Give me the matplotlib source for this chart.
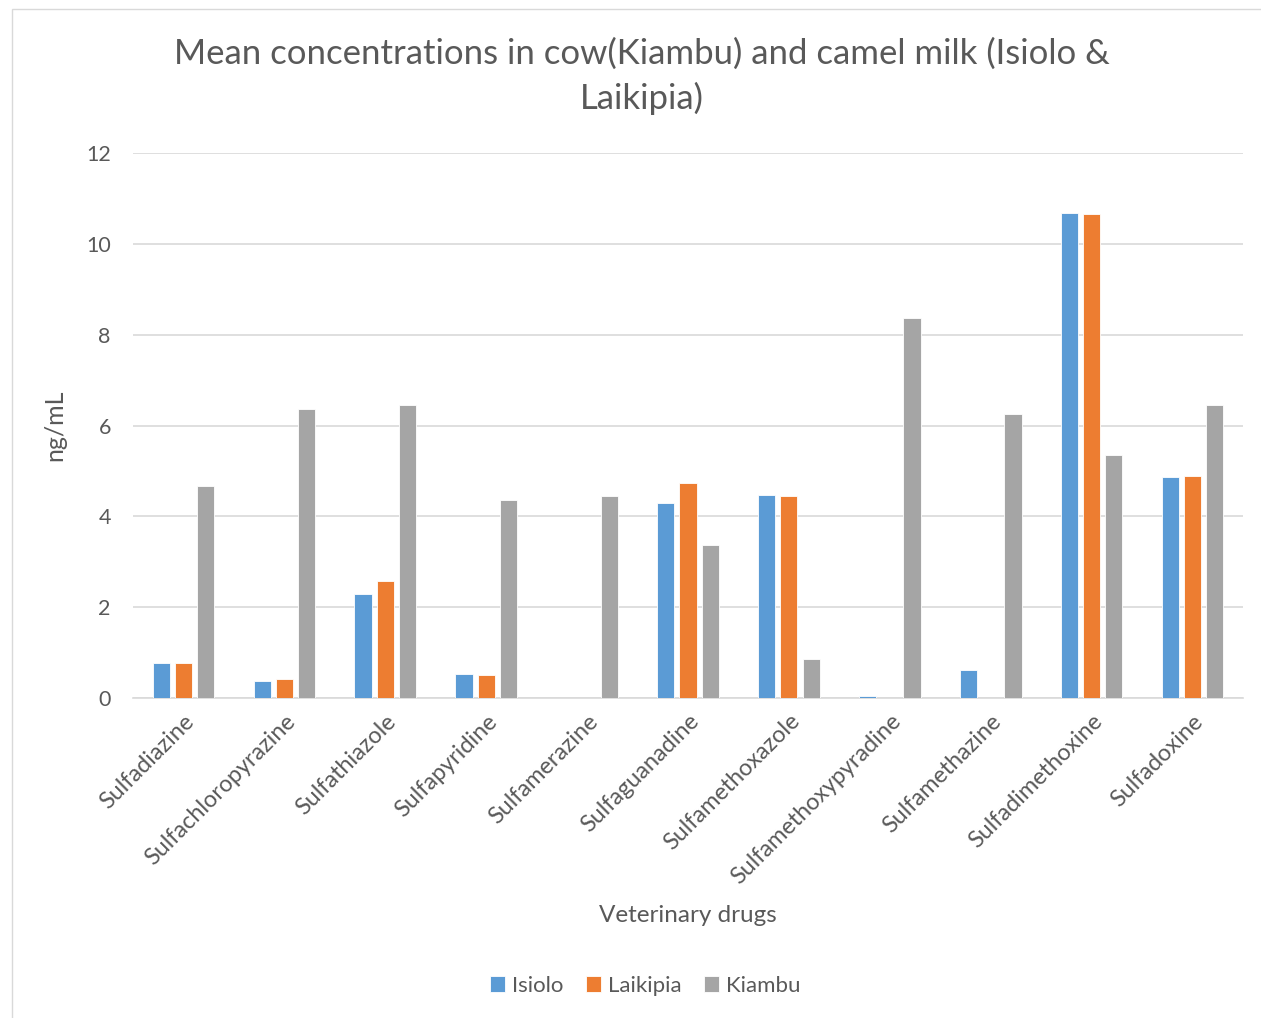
import matplotlib
matplotlib.use("Agg")
import matplotlib.pyplot as plt
import numpy as np
from matplotlib.patches import Rectangle

drugs = ["Sulfadiazine", "Sulfachloropyrazine", "Sulfathiazole", "Sulfapyridine",
         "Sulfamerazine", "Sulfaguanadine", "Sulfamethoxazole", "Sulfamethoxypyradine",
         "Sulfamethazine", "Sulfadimethoxine", "Sulfadoxine"]
isiolo = [0.77, 0.37, 2.30, 0.53, 0.0, 4.29, 4.47, 0.04, 0.62, 10.68, 4.86]
laikipia = [0.77, 0.42, 2.58, 0.51, 0.0, 4.73, 4.45, 0.0, 0.0, 10.66, 4.89]
kiambu = [4.67, 6.36, 6.45, 4.36, 4.45, 3.37, 0.86, 8.37, 6.25, 5.35, 6.45]
yticks = [0, 2, 4, 6, 8, 10, 12]

series = [("Isiolo", isiolo, "#5B9BD5"),
          ("Laikipia", laikipia, "#ED7D31"),
          ("Kiambu", kiambu, "#A5A5A5")]

plt.rcParams["font.family"] = ["Lato", "DejaVu Sans"]
text_color = "#595959"

fig = plt.figure(figsize=(12.61, 10.18), dpi=100)
fig.patches.append(Rectangle((12 / 1261, -0.1), 1.2, (1018 - 9) / 1018 + 0.1,
                             transform=fig.transFigure, fill=False,
                             edgecolor="#D9D9D9", linewidth=1.0))

ax = fig.add_axes([133 / 1261, (1018 - 698) / 1018, (1243 - 133) / 1261, (698 - 153) / 1018])

x = np.arange(len(drugs))
width = 0.17
step = 0.22
for i, (name, vals, color) in enumerate(series):
    ax.bar(x + (i - 1) * step, vals, width, color=color, label=name,
           edgecolor="white", linewidth=0.6, zorder=3)

ax.set_xlim(-0.5, len(drugs) - 0.5)
ax.set_ylim(0, 12)
ax.set_yticks(yticks)
ax.set_yticklabels([str(t) for t in yticks])
ax.grid(axis="y", color="#D9D9D9", linewidth=1.2, zorder=0)
ax.set_axisbelow(True)
for s in ["left", "right", "top"]:
    ax.spines[s].set_visible(False)
ax.spines["bottom"].set_color("#D9D9D9")
ax.spines["bottom"].set_linewidth(1.2)
ax.tick_params(axis="both", length=0, colors=text_color)
ax.tick_params(axis="y", pad=16, labelsize=15.5)

ax.set_xticks(x)
ax.set_xticklabels(drugs, rotation=45, ha="right", rotation_mode="anchor",
                   fontsize=16.8, color=text_color)
ax.tick_params(axis="x", pad=9)

ax.set_ylabel("ng/mL", fontsize=18, color=text_color, labelpad=14)
fig.text(688 / 1261, 1 - 915 / 1018, "Veterinary drugs", ha="center", va="center",
         fontsize=17.5, color=text_color)

fig.text(642 / 1261, 1 - 76 / 1018,
         "Mean concentrations in cow(Kiambu) and camel milk (Isiolo &\nLaikipia)",
         ha="center", va="center", fontsize=25, color=text_color, linespacing=1.45)

leg = fig.legend(loc="center", bbox_to_anchor=(645 / 1261, 1 - 986 / 1018), ncol=3,
                 frameon=False, fontsize=16, handlelength=0.7, handleheight=0.7,
                 handletextpad=0.3, columnspacing=1.0)
for t in leg.get_texts():
    t.set_color(text_color)

fig.savefig("out.png", dpi=100, facecolor="white")
